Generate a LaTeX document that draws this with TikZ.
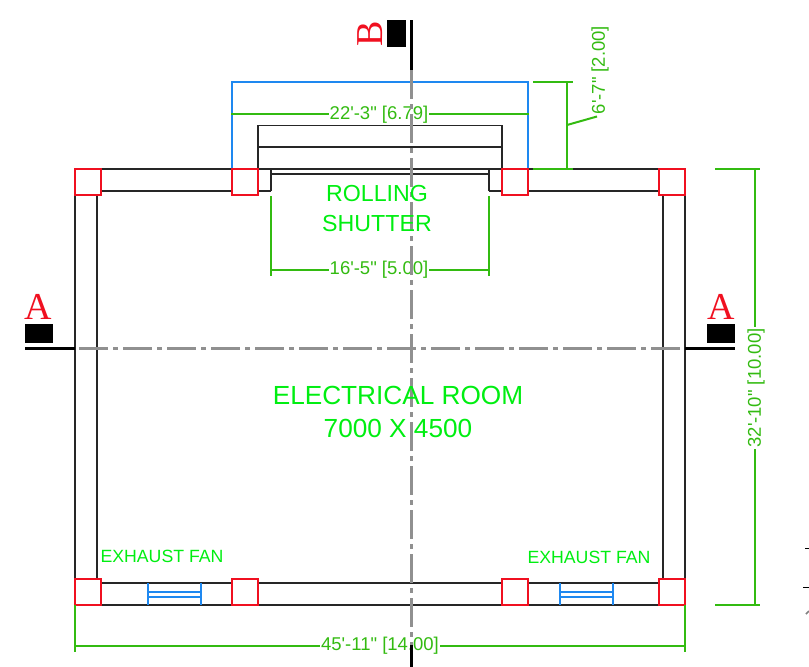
\documentclass[tikz,border=0pt]{standalone}
\usepackage{fontspec}
\newfontfamily\plainsans{Liberation Sans}
\newfontfamily\serifred{Liberation Serif}
\definecolor{dimgreen}{HTML}{33BB11}
\definecolor{txtgreen}{HTML}{00EE11}
\definecolor{blueln}{HTML}{1E88F0}
\definecolor{redln}{HTML}{F01020}
\definecolor{centerln}{HTML}{909090}
\tikzset{
  wall/.style={draw=black!85,line width=1.9pt},
  col/.style={draw=redln,line width=2.1pt,fill=white,minimum width=26.5pt,minimum height=26.5pt,inner sep=0pt,outer sep=0pt},
  blue line/.style={draw=blueln,line width=2pt},
  dim/.style={draw=dimgreen,line width=2pt},
  dimlabel/.style={text=dimgreen,fill=white,inner sep=1pt,font=\plainsans\fontsize{18.5}{18.5}\selectfont},
  biglabel/.style={text=txtgreen,inner sep=0pt,align=center},
  centerline/.style={draw=centerln,line width=2.2pt,dash pattern=on 29pt off 5pt on 5pt off 5pt},
  secmark/.style={fill=black,minimum width=28pt,minimum height=19pt,inner sep=0pt,outer sep=0pt},
  secletter/.style={text=redln,inner sep=0pt,font=\serifred\fontsize{38}{38}\selectfont},
  secline/.style={draw=black,line width=2.1pt}
}
\begin{document}
\begin{tikzpicture}[x=1pt,y=-1pt]
\useasboundingbox (0,0) rectangle (809,667);
% walls
\draw[wall] (75,169) -- (685,169) -- (685,605) -- (75,605) -- cycle;
\draw[wall] (271,191) -- (97,191) -- (97,583) -- (663,583) -- (663,191) -- (489,191);
\draw[wall] (271,191) -- (271,169);
\draw[wall] (489,191) -- (489,169);
\draw[wall] (271,174) -- (489,174);
% shutter box
\draw[wall] (258,169) -- (258,125.5) -- (502,125.5) -- (502,169);
\draw[wall] (258,147) -- (502,147);
% blue canopy
\draw[blue line] (231.5,169) -- (231.5,82) -- (528,82) -- (528,169);
% fans
\foreach \x in {148,560}{
  \draw[blue line] (\x,583) -- (\x,605);
  \draw[blue line] (\x+52.5,583) -- (\x+52.5,605);
  \draw[blue line] (\x,592) -- (\x+52.5,592);
  \draw[blue line] (\x,596.5) -- (\x+52.5,596.5);
}
% columns
\node[col] (c1) at (88,182) {};
\node[col] (c2) at (245,182) {};
\node[col] (c3) at (515,182) {};
\node[col] (c4) at (672,182) {};
\node[col] (c5) at (88,592) {};
\node[col] (c6) at (245,592) {};
\node[col] (c7) at (515,592) {};
\node[col] (c8) at (672,592) {};
% dimensions
\draw[dim] (231,114) -- (529,114);
\node[dimlabel] (d1) at (379,115) {22'-3" [6.79]};
\draw[dim] (271,196) -- (271,276);
\draw[dim] (489,196) -- (489,276);
\draw[dim] (271,269.5) -- (489,269.5);
\node[dimlabel] (d2) at (379,270) {16'-5" [5.00]};
\draw[dim] (533,82) -- (573,82);
\draw[dim] (533,169) -- (573,169);
\draw[dim] (567,82) -- (567,169);
\draw[dim] (567,125) -- (597,116.5);
\node[text=dimgreen,inner sep=0pt,rotate=90,font=\plainsans\fontsize{18.5}{18.5}\selectfont] (d3) at (600,70) {6'-7" [2.00]};
\draw[dim] (715,169) -- (760,169);
\draw[dim] (715,605) -- (760,605);
\draw[dim] (755,169) -- (755,605);
\node[dimlabel,rotate=90] (d4) at (756,388) {32'-10" [10.00]};
\draw[dim] (75,605) -- (75,652);
\draw[dim] (685,605) -- (685,652);
\draw[dim] (75,646) -- (685,646);
\node[dimlabel] (d5) at (380,645.5) {45'-11" [14.00]};
% centre lines
\coordinate (vt) at (411.5,70);
\coordinate (vb) at (411.5,645);
\coordinate (vbb) at (411.5,667);
\coordinate (hl) at (79,348.5);
\coordinate (hr) at (685,348.5);
\coordinate (hle) at (75,348.5);
\draw[centerline] (vt) -- (vb);
\draw[centerline] (hl) -- (hr);
% section marks
\node[secmark,minimum width=19pt,minimum height=27pt] (mb) at (396.5,33.5) {};
\draw[secline] (411.5,20) -- (vt);
\draw[secline] (vb) -- (vbb);
\node[secletter,rotate=90] (lb) at (370,34) {B};
\node[secmark] (ma) at (39,333.5) {};
\node[secletter] (la) at (38,307) {A};
\draw[secline] (25,348.5) -- (hle);
\node[secmark] (mc) at (721,333.5) {};
\node[secletter] (lc) at (721,307) {A};
\draw[secline] (hr) -- (735,348.5);
% clipped marks at the right edge
\draw[black,line width=1.8pt] (805,548.5) -- (809,548.5);
\draw[black,line width=1.8pt] (803,587.5) -- (809,587.5);
\draw[black!50,line width=1.6pt] (806,614) -- (809,611);
% labels
\node[biglabel,font=\plainsans\fontsize{23.2}{30}\selectfont] (t1) at (377,208.5) {ROLLING\\SHUTTER};
\node[biglabel,font=\plainsans\fontsize{26.2}{33}\selectfont] (t2) at (398,411.5) {ELECTRICAL ROOM\\7000 X 4500};
\node[biglabel,font=\plainsans\fontsize{17.7}{17.7}\selectfont] (t3) at (162,556) {EXHAUST FAN};
\node[biglabel,font=\plainsans\fontsize{17.7}{17.7}\selectfont] (t4) at (589,557) {EXHAUST FAN};
\end{tikzpicture}
\end{document}
